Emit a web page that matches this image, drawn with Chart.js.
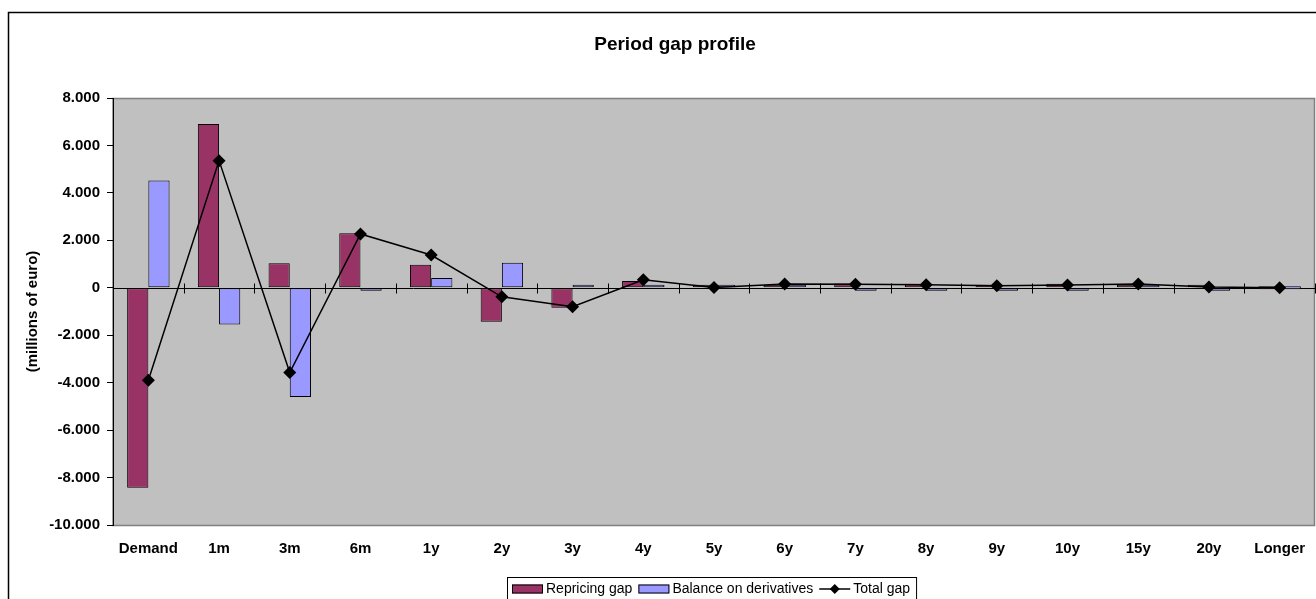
<!DOCTYPE html>
<html><head><meta charset="utf-8">
<script src="https://cdn.jsdelivr.net/npm/chart.js@4.4.1/dist/chart.umd.min.js"></script>
<style>html,body{margin:0;padding:0;background:#fff;overflow:hidden}#wrap{position:relative;width:1316px;height:599px}</style>
</head><body><div id="wrap"><canvas id="c" width="1316" height="599"></canvas></div>
<script>
const categories = ['Demand','1m','3m','6m','1y','2y','3y','4y','5y','6y','7y','8y','9y','10y','15y','20y','Longer'];
const repricingGap = [-8430, 6900, 1030, 2300, 970, -1435, -840, 290, 5, 30, 180, 170, 100, 165, 90, 40, 0];
const balanceOnDerivatives = [4520, -1545, -4600, -30, 410, 1055, 40, 50, 5, 130, -40, -40, -15, -50, 65, -10, 0];
const totalGap = [-3900, 5360, -3570, 2270, 1380, -380, -800, 340, 10, 160, 145, 130, 85, 115, 155, 30, 0];
const yMin = -10000, yMax = 8000, yStep = 2000;
const chartTitle = 'Period gap profile';
const yTitle = '(millions of euro)';

const FONT = '"Liberation Sans", Arial, Helvetica, sans-serif';
function fmt(v){ const s = Math.abs(v).toString().replace(/\B(?=(\d{3})+(?!\d))/g, '.'); return (v < 0 ? '-' : '') + s; }

const framePlugin = {
  id: 'frame',
  beforeDraw(chart){
    const {ctx, chartArea: a} = chart;
    ctx.save();
    ctx.fillStyle = '#fff';
    ctx.fillRect(0, 0, chart.width, chart.height);
    ctx.strokeStyle = '#000';
    ctx.lineWidth = 1.5;
    ctx.beginPath();
    ctx.moveTo(8.5, chart.height + 2);
    ctx.lineTo(8.5, 12.5);
    ctx.lineTo(chart.width + 2, 12.5);
    ctx.stroke();
    ctx.fillStyle = '#C0C0C0';
    ctx.fillRect(a.left, a.top, a.right - a.left, a.bottom - a.top);
    ctx.strokeStyle = '#808080';
    ctx.lineWidth = 1.5;
    ctx.strokeRect(a.left, a.top + 0.5, a.right - a.left - 0.5, a.bottom - a.top);
    ctx.fillStyle = '#000';
    ctx.font = 'bold 19px ' + FONT;
    ctx.textAlign = 'center';
    ctx.textBaseline = 'middle';
    ctx.fillText(chartTitle, 675, 45);
    ctx.restore();
  }
};

const zeroAxisPlugin = {
  id: 'zeroAxis',
  beforeDatasetsDraw(chart){
    const {ctx, chartArea: a, scales: {x, y}} = chart;
    const y0 = Math.round(y.getPixelForValue(0)) + 0.5;
    ctx.save();
    ctx.strokeStyle = '#000';
    ctx.lineWidth = 1;
    ctx.beginPath();
    ctx.moveTo(a.left, y0);
    ctx.lineTo(a.right, y0);
    for (let i = 0; i <= categories.length; i++) {
      const px = Math.round(x.getPixelForValue(i - 0.5)) + 0.5;
      ctx.moveTo(px, y0 - 5);
      ctx.lineTo(px, y0 + 5);
    }
    ctx.stroke();
    ctx.restore();
  }
};

const legendPlugin = {
  id: 'boxLegend',
  afterDraw(chart){
    const {ctx} = chart;
    const ds = chart.data.datasets;
    const order = [1, 2, 0];
    ctx.save();
    ctx.font = '14px ' + FONT;
    ctx.textBaseline = 'middle';
    ctx.textAlign = 'left';
    const boxLeft = 507, boxTop = 577, cy = 589;
    let xPos = boxLeft + 5;
    order.forEach((idx) => {
      const d = ds[idx];
      if (d.type === 'line') {
        ctx.strokeStyle = '#000';
        ctx.lineWidth = 1.5;
        ctx.beginPath();
        ctx.moveTo(xPos, cy);
        ctx.lineTo(xPos + 31, cy);
        ctx.stroke();
        ctx.fillStyle = '#000';
        ctx.beginPath();
        const cx = xPos + 15.5, r = 5;
        ctx.moveTo(cx, cy - r); ctx.lineTo(cx + r, cy); ctx.lineTo(cx, cy + r); ctx.lineTo(cx - r, cy); ctx.closePath();
        ctx.fill();
      } else {
        ctx.fillStyle = d.backgroundColor;
        ctx.fillRect(xPos, cy - 4.5, 31, 9);
        ctx.strokeStyle = '#000';
        ctx.lineWidth = 1;
        ctx.strokeRect(xPos + 0.5, cy - 4, 30, 8);
      }
      xPos += 34;
      ctx.fillStyle = '#000';
      ctx.fillText(d.label, xPos, cy);
      xPos += ctx.measureText(d.label).width + 6;
    });
    ctx.strokeStyle = '#000';
    ctx.lineWidth = 1;
    ctx.strokeRect(boxLeft + 0.5, boxTop + 0.5, xPos - boxLeft, 60);
    ctx.restore();
  }
};

new Chart(document.getElementById('c'), {
  type: 'bar',
  data: {
    labels: categories,
    datasets: [
      { type: 'line', label: 'Total gap', data: totalGap, order: 0,
        borderColor: '#000', backgroundColor: '#000', borderWidth: 1.5, tension: 0,
        pointStyle: 'rectRot', pointRadius: 6.5, pointBackgroundColor: '#000', pointBorderColor: '#000', pointBorderWidth: 0 },
      { label: 'Repricing gap', data: repricingGap, order: 1,
        backgroundColor: '#993366', borderColor: '#000', borderWidth: 1, borderSkipped: false, minBarLength: 3 },
      { label: 'Balance on derivatives', data: balanceOnDerivatives, order: 1,
        backgroundColor: '#9999FF', borderColor: '#000', borderWidth: 1, borderSkipped: false, minBarLength: 3 }
    ]
  },
  options: {
    responsive: false,
    animation: false,
    devicePixelRatio: 1,
    events: [],
    layout: { autoPadding: false, padding: { top: 98, right: 1, left: 0, bottom: 0 } },
    datasets: { bar: { categoryPercentage: 0.6, barPercentage: 1 } },
    plugins: { legend: { display: false }, title: { display: false }, tooltip: { enabled: false } },
    scales: {
      x: {
        grid: { display: false, drawTicks: false },
        border: { display: false },
        ticks: { color: '#000', font: { family: FONT, size: 15, weight: 'bold', lineHeight: 2.4 }, padding: 6, maxRotation: 0, autoSkip: false },
        afterFit(s){ s.height = 74; }
      },
      y: {
        min: yMin, max: yMax,
        ticks: { stepSize: yStep, color: '#000', font: { family: FONT, size: 15, weight: 'bold' }, padding: 7, callback: v => fmt(v) },
        grid: { drawOnChartArea: false, drawTicks: true, tickLength: 6, color: '#000' },
        border: { color: '#000', width: 1 },
        title: { display: true, text: yTitle, color: '#000', font: { family: FONT, size: 15, weight: 'bold' }, padding: { top: 24, bottom: 0 } },
        afterFit(s){ s.width = 113; }
      }
    }
  },
  plugins: [framePlugin, zeroAxisPlugin, legendPlugin]
});
</script>
</body></html>
